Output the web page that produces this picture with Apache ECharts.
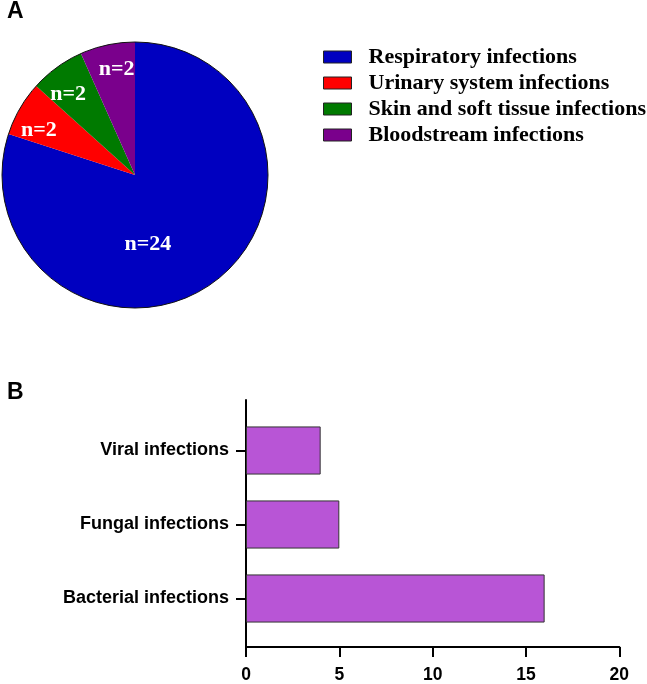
<!DOCTYPE html>
<html>
<head>
<meta charset="utf-8">
<script src="https://cdn.jsdelivr.net/npm/echarts@6/dist/echarts.min.js"></script>
<style>
html,body{margin:0;padding:0;background:#fff;}
#chart{width:647px;height:684px;}
</style>
</head>
<body>
<div id="chart"></div>
<script>
// Panel A: infection sites
const pieNames = ['Respiratory infections', 'Urinary system infections', 'Skin and soft tissue infections', 'Bloodstream infections'];
const pieValues = [24, 2, 2, 2];
const pieColors = ['#0000C0', '#FF0000', '#007A00', '#7A008C'];
// Panel B: pathogen types (bottom to top)
const barCategories = ['Bacterial infections', 'Fungal infections', 'Viral infections'];
const barValues = [16, 5, 4];
const xTicks = [0, 5, 10, 15, 20];

// label nudges (styling) for pie labels
const pieLabelOffsets = [[-28, 13], [-36, -10], [-26, -24], [-4, -38]];

const chart = echarts.init(document.getElementById('chart'), null, {renderer: 'canvas'});

const pieData = pieNames.map((n, i) => ({
  name: n,
  value: pieValues[i],
  itemStyle: {color: pieColors[i]},
  label: {offset: pieLabelOffsets[i]}
}));

const option = {
  backgroundColor: '#ffffff',
  animation: false,
  title: [
    {text: 'A', left: 7, top: 0, padding: 0,
     textStyle: {fontFamily: 'Liberation Sans', fontWeight: 'bold', fontSize: 23, color: '#000'}},
    {text: 'B', left: 7, top: 381, padding: 0,
     textStyle: {fontFamily: 'Liberation Sans', fontWeight: 'bold', fontSize: 23, color: '#000'}}
  ],
  legend: {
    orient: 'vertical',
    left: 323,
    top: 46,
    padding: 0,
    itemWidth: 28,
    itemHeight: 12,
    itemGap: 4,
    icon: 'rect',
    data: pieNames,
    selectedMode: false,
    itemStyle: {borderColor: '#222', borderWidth: 1},
    textStyle: {fontFamily: 'Liberation Serif', fontWeight: 'bold', fontSize: 22, lineHeight: 22, color: '#000', padding: [0, 0, 0, 12]}
  },
  grid: [
    {left: 246, right: 27.7, top: 413.5, height: 225, containLabel: false},
    {left: 246, right: 27.7, top: 400, height: 250, containLabel: false}
  ],
  xAxis: [
    {
      gridIndex: 0, type: 'value', min: 0, max: 20, interval: 5, offset: 11.5,
      axisLine: {show: true, lineStyle: {color: '#000', width: 2}},
      axisTick: {show: true, length: 10, lineStyle: {color: '#000', width: 2}},
      axisLabel: {margin: 19, color: '#000', fontFamily: 'Liberation Sans', fontWeight: 'bold', fontSize: 17.5,
        formatter: v => xTicks.indexOf(v) >= 0 ? String(v) : ''},
      splitLine: {show: false}
    },
    {gridIndex: 1, type: 'value', min: 0, max: 1, show: false}
  ],
  yAxis: [
    {
      gridIndex: 0, type: 'category', data: barCategories,
      axisLine: {show: false},
      axisTick: {show: true, alignWithLabel: true, length: 10, lineStyle: {color: '#000', width: 2}},
      axisLabel: {margin: 17, color: '#000', fontFamily: 'Liberation Sans', fontWeight: 'bold', fontSize: 18},
      splitLine: {show: false}
    },
    {
      gridIndex: 1, type: 'value', min: 0, max: 1,
      axisLine: {show: true, onZero: false, lineStyle: {color: '#000', width: 2}},
      axisTick: {show: false}, axisLabel: {show: false}, splitLine: {show: false}
    }
  ],
  series: [
    {
      type: 'pie',
      center: [135, 175],
      radius: 133,
      startAngle: 90,
      clockwise: true,
      silent: true,
      emphasis: {disabled: true},
      data: pieData,
      itemStyle: {borderWidth: 0},
      labelLine: {show: false},
      label: {
        show: true, position: 'inside', formatter: p => 'n=' + p.value,
        color: '#fff', fontFamily: 'Liberation Serif', fontWeight: 'bold', fontSize: 22
      }
    },
    {
      type: 'pie',
      name: 'outline',
      center: [135, 175],
      radius: 133,
      silent: true,
      emphasis: {disabled: true},
      label: {show: false},
      labelLine: {show: false},
      data: [{name: '__outline', value: 1, itemStyle: {color: 'rgba(0,0,0,0)', borderColor: '#111', borderWidth: 1}}]
    },
    {
      type: 'bar',
      xAxisIndex: 0, yAxisIndex: 0,
      data: barValues,
      barWidth: '65%',
      itemStyle: {color: '#B855D6', borderColor: '#333', borderWidth: 1},
      silent: true
    }
  ]
};
chart.setOption(option);
</script>
</body>
</html>
